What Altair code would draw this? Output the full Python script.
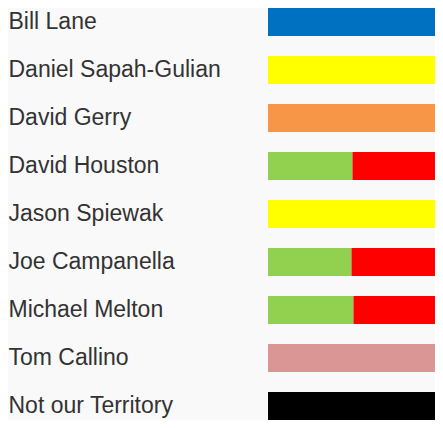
import altair as alt
import pandas as pd

# Row labels (top to bottom)
names = ["Bill Lane", "Daniel Sapah-Gulian", "David Gerry", "David Houston",
         "Jason Spiewak", "Joe Campanella", "Michael Melton", "Tom Callino",
         "Not our Territory"]

# Bar segments: which row, which colour key, and length
seg_row = ["Bill Lane", "Daniel Sapah-Gulian", "David Gerry",
           "David Houston", "David Houston",
           "Jason Spiewak",
           "Joe Campanella", "Joe Campanella",
           "Michael Melton", "Michael Melton",
           "Tom Callino", "Not our Territory"]
seg_key = ["Bill Lane", "Daniel Sapah-Gulian", "David Gerry",
           "Shared A", "Shared B",
           "Jason Spiewak",
           "Shared A", "Shared B",
           "Shared A", "Shared B",
           "Tom Callino", "Not our Territory"]
seg_order = [0, 0, 0, 0, 1, 0, 0, 1, 0, 1, 0, 0]
seg_value = [170, 170, 170, 86, 84, 170, 85, 85, 87, 83, 170, 170]

key_domain = ["Bill Lane", "Daniel Sapah-Gulian", "David Gerry", "Shared A",
              "Shared B", "Jason Spiewak", "Tom Callino", "Not our Territory"]
key_colors = ["#0070c0", "#ffff00", "#f79646", "#92d050",
              "#ff0000", "#ffff00", "#da9694", "#000000"]

df = pd.DataFrame({"row": seg_row, "key": seg_key, "ord": seg_order, "value": seg_value})

chart = alt.Chart(df).mark_bar().encode(
    y=alt.Y("row:N", sort=names,
            scale=alt.Scale(paddingInner=0.4167, paddingOuter=0),
            axis=alt.Axis(title=None, ticks=False, domain=False, labelAlign="left",
                          labelPadding=260, labelFontSize=23, labelFont="Liberation Sans",
                          labelColor="#333333", labelLimit=400, labelBaseline="middle")),
    x=alt.X("value:Q", stack="zero", scale=alt.Scale(domain=[0, 170], nice=False),
            axis=None),
    color=alt.Color("key:N", scale=alt.Scale(domain=key_domain, range=key_colors), legend=None),
    order=alt.Order("ord:Q"),
).properties(
    width=167, height=412,
    autosize=alt.AutoSizeParams(type="none"),
    padding={"left": 260, "top": 0, "right": 0, "bottom": 0},
    background="#f9f9f9",
).configure_view(stroke=None)

chart.save("out.html", embed_options={"renderer": "svg", "actions": False})
